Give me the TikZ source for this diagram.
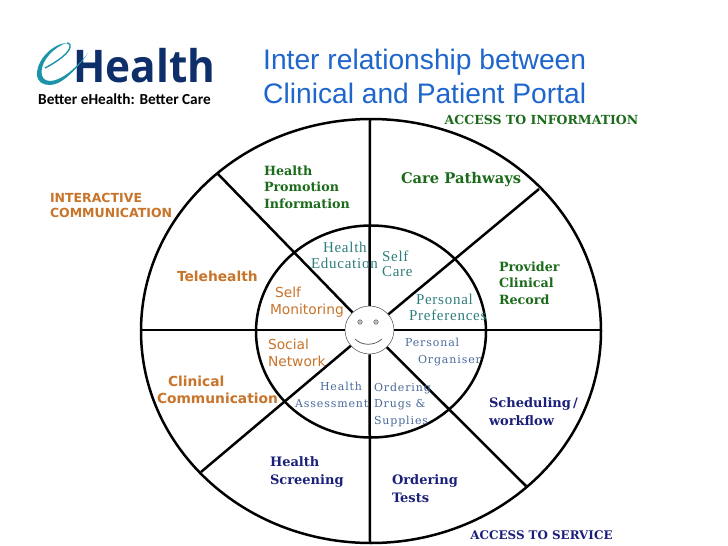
\documentclass[tikz,border=0pt]{standalone}
\usetikzlibrary{shapes.geometric}
\usepackage{fontspec}
\setmainfont{Liberation Sans}
\newfontfamily\dserif{DejaVu Serif}
\newfontfamily\dsans{DejaVu Sans}
\newfontfamily\lserifs[LetterSpace=5]{Liberation Serif}
\newfontfamily\dserifs[LetterSpace=8]{DejaVu Serif}
\newfontfamily\logof{Open Sans}
\newfontfamily\tagf{Carlito}
\definecolor{ctitle}{HTML}{1F66CC}
\definecolor{cgreen}{HTML}{1B6B1B}
\definecolor{corange}{HTML}{C8742A}
\definecolor{cnavy}{HTML}{1A1F7A}
\definecolor{cteal}{HTML}{2F7D7D}
\definecolor{cslate}{HTML}{4A6A9C}
\definecolor{clogo}{HTML}{0F2F6B}
\definecolor{cswoosh}{HTML}{1C93A8}
\tikzset{
  ring/.style={ellipse,draw=black,line width=2.5pt,inner sep=0pt,outer sep=0pt},
  spoke/.style={draw=black,line width=2.5pt},
  lbl/.style={anchor=west,inner sep=0pt,outer sep=0pt,align=left},
  grn/.style={lbl,text=cgreen,font=\dserif\bfseries\fontsize{12.7}{16.5}\selectfont},
  navy/.style={lbl,text=cnavy,font=\dserif\bfseries\fontsize{13}{18}\selectfont},
  org/.style={lbl,text=corange,font=\dsans\bfseries\fontsize{13.8}{17}\selectfont},
  orgin/.style={lbl,text=corange,font=\dsans\fontsize{13.8}{17}\selectfont},
  teal/.style={lbl,text=cteal,font=\lserifs\fontsize{15}{15.5}\selectfont},
  slate/.style={lbl,text=cslate,font=\dserifs\fontsize{11}{16.5}\selectfont},
  ttl/.style={anchor=base west,inner sep=0pt,text=ctitle,font=\fontsize{28.2}{34}\selectfont},
}
\begin{document}
\begin{tikzpicture}[x=1pt,y=-1pt]
\useasboundingbox (0,0) rectangle (728,546);
\fill[white] (0,0) rectangle (728,546);
% logo
\node[anchor=base west,inner sep=0pt,text=clogo,font=\logof\bfseries\fontsize{45}{45}\selectfont] (logoh) at (73,82) {\scalebox{.94}[1]{Health}};
\node[anchor=base west,inner sep=0pt,text=black,font=\tagf\bfseries\fontsize{15.3}{15}\selectfont] (logot) at (38,104) {Better eHealth: Better Care};
\fill[cswoosh] (67,43) .. controls (55,43) and (37,58) .. (37,74)
  .. controls (37,82) and (43,85) .. (50,85)
  .. controls (62,85) and (78,68) .. (88,53)
  .. controls (78,66) and (62,81) .. (50,81)
  .. controls (44,81) and (41.5,77) .. (41.5,72)
  .. controls (41.5,60) and (55,46) .. (67,43) -- cycle;
\draw[cswoosh,line width=1.4pt] (45,68) .. controls (55,63) and (72,52) .. (70,45) .. controls (69.5,43.5) and (68,43) .. (67,43);
% title
\node[ttl] (t1) at (263,69) {Inter relationship between};
\node[ttl] (t2) at (263,103) {Clinical and Patient Portal};
% wheel
\node[ring,minimum width=460pt,minimum height=424pt] (outer) at (371,331) {};
\node[ring,minimum width=230pt,minimum height=212pt] (inner) at (371,331.5) {};
\coordinate (rT) at (370,119);
\coordinate (rB) at (370,543);
\coordinate (rL) at (141,330);
\coordinate (rR) at (601,330);
\coordinate (rUL) at (218,174);
\coordinate (rUR) at (539,189);
\coordinate (rLL) at (201,472);
\coordinate (rLR) at (527,487);
\node[ellipse,draw=black!70,line width=0.5pt,fill=white,minimum width=49pt,minimum height=48pt,inner sep=0pt] (face) at (369.5,330) {};
\foreach \r in {rT,rB,rL,rR,rUL,rUR,rLL,rLR}{\draw[spoke] (face) -- (\r);}
% face
\node[circle,draw=black!60,fill=black!25,line width=0.5pt,minimum size=4.5pt,inner sep=0pt] (eyeL) at (360,322) {};
\node[circle,draw=black!60,fill=black!25,line width=0.5pt,minimum size=4.5pt,inner sep=0pt] (eyeR) at (376,322) {};
\draw[black!70,line width=0.7pt] (355,339) .. controls (362,346) and (374,346) .. (382,339);
% outer labels
\node[lbl,text=cgreen,font=\dserif\bfseries\fontsize{12.5}{12.5}\selectfont,anchor=center] (acci) at (541.5,120) {ACCESS TO INFORMATION};
\node[lbl,text=cnavy,font=\dserif\bfseries\fontsize{11.9}{12}\selectfont,anchor=center] (accs) at (541.5,535) {ACCESS TO SERVICE};
\node[grn] (hpi) at (264,187) {Health\\Promotion\\Information};
\node[grn,font=\dserif\bfseries\fontsize{14.7}{16}\selectfont] (cp) at (401,180) {Care Pathways};
\node[grn] (pcr) at (499,283) {Provider\\Clinical\\Record};
\node[org,font=\dsans\bfseries\fontsize{12.5}{15}\selectfont] (ic) at (50,205.5) {INTERACTIVE\\COMMUNICATION};
\node[org] (tele) at (177,276) {Telehealth};
\node[org] (cc) at (157,389.5) {\hspace*{11pt}Clinical\\Communication};
\node[navy] (hs) at (270,472) {Health\\Screening};
\node[navy] (ot) at (392,489) {Ordering\\Tests};
\node[navy] (sw) at (489,412) {Scheduling\,/\\workflow};
% inner labels
\node[teal] (he) at (311,255.5) {\hspace*{12pt}Health\\Education};
\node[teal] (sc) at (382,264) {Self\\Care};
\node[teal] (pp) at (409,307.5) {\hspace*{7pt}Personal\\Preferences};
\node[orgin] (sm) at (270,302.5) {\hspace*{5pt}Self\\Monitoring};
\node[orgin] (sn) at (268,352.5) {Social\\Network};
\node[slate] (po) at (405,352) {Personal\\\hspace*{13pt}Organiser};
\node[slate] (ha) at (295,395) {\hspace*{25pt}Health\\Assessment};
\node[slate] (od) at (374,404.5) {Ordering\\Drugs \&\\Supplies};
\end{tikzpicture}
\end{document}
